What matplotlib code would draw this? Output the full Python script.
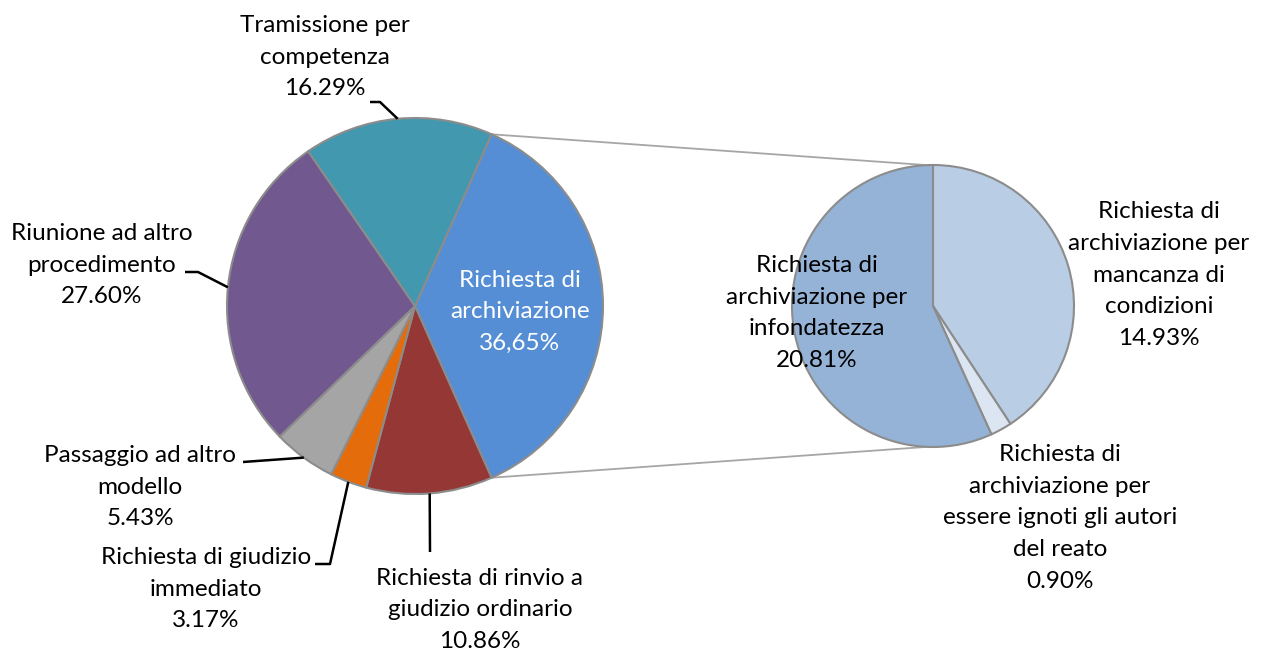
import numpy as np
import matplotlib.pyplot as plt

plt.rcParams['font.family'] = ['Lato', 'DejaVu Sans']

W, H = 1269, 653

# torta principale (ordine orario a partire dalla richiesta di archiviazione)
main_labels = ['Richiesta di\narchiviazione',
               'Richiesta di rinvio a\ngiudizio ordinario',
               'Richiesta di giudizio\nimmediato',
               'Passaggio ad altro\nmodello',
               'Riunione ad altro\nprocedimento',
               'Tramissione per\ncompetenza']
main_values = [36.65, 10.86, 3.17, 5.43, 27.60, 16.29]
main_colors = ['#558ED5', '#953735', '#E46C0A', '#A5A5A5', '#71588F', '#4198AF']

# dettaglio archiviazione
sub_labels = ['Richiesta di\narchiviazione per\nmancanza di\ncondizioni',
              'Richiesta di\narchiviazione per\nessere ignoti gli autori\ndel reato',
              'Richiesta di\narchiviazione per\ninfondatezza']
sub_values = [14.93, 0.90, 20.81]
sub_colors = ['#B9CDE5', '#DCE6F2', '#95B3D7']

# posizioni (pixel) dei testi e punto di attacco delle linee guida
main_text_pos = [(520, 312), (480, 610), (206, 589), (140, 487), (102, 265), (325, 57)]
main_leader = [None, [(430, 552)], [(315, 564), (330, 564)], [(243, 462)],
               [(185, 272), (198, 272)], [(370, 102), (380, 102)]]
sub_text_pos = [(1159, 275), (1060, 518), (817, 313)]

c1, r1 = (415, 306), 188
c2, r2 = (933, 306), 141
edge = '#8C8C8C'


def Y(y):
    return H - y


fig = plt.figure(figsize=(W / 100, H / 100), dpi=100)
ax = fig.add_axes([0, 0, 1, 1])

start = 360 * main_values[0] / sum(main_values) / 2
w1, _ = ax.pie(main_values, colors=main_colors, startangle=start, counterclock=False,
               center=(c1[0], Y(c1[1])), radius=r1,
               wedgeprops=dict(edgecolor=edge, linewidth=1.5))
w2, _ = ax.pie(sub_values, colors=sub_colors, startangle=90, counterclock=False,
               center=(c2[0], Y(c2[1])), radius=r2,
               wedgeprops=dict(edgecolor=edge, linewidth=1.5))

fs = 17.5
ls = 1.62
for i, (lab, val) in enumerate(zip(main_labels, main_values)):
    x, y = main_text_pos[i]
    if i == 0:
        txt = lab + '\n' + f'{val:.2f}%'.replace('.', ',')
        ax.text(x, Y(y), txt, ha='center', va='center', fontsize=fs, color='white',
                linespacing=ls)
        continue
    ax.text(x, Y(y), lab + '\n' + f'{val:.2f}%', ha='center', va='center',
            fontsize=fs, color='black', linespacing=ls)
    wd = w1[i]
    mid = np.deg2rad((wd.theta1 + wd.theta2) / 2)
    rim = (c1[0] + r1 * np.cos(mid), Y(c1[1]) + r1 * np.sin(mid))
    pts = [(px, Y(py)) for px, py in main_leader[i]] + [rim]
    ax.plot([p[0] for p in pts], [p[1] for p in pts], color='black', lw=1.8,
            solid_capstyle='butt')

for i, (lab, val) in enumerate(zip(sub_labels, sub_values)):
    x, y = sub_text_pos[i]
    ax.text(x, Y(y), lab + '\n' + f'{val:.2f}%', ha='center', va='center',
            fontsize=fs, color='black', linespacing=ls)

# linee di collegamento tra le due torte
b = w1[0]
for ang, yy in [(b.theta1, Y(c2[1]) - r2), (b.theta2, Y(c2[1]) + r2)]:
    a = np.deg2rad(ang)
    p = (c1[0] + r1 * np.cos(a), Y(c1[1]) + r1 * np.sin(a))
    ax.plot([p[0], c2[0] - 8], [p[1], yy], color='#A6A6A6', lw=1.3, zorder=0)

ax.set_xlim(0, W)
ax.set_ylim(0, H)
ax.set_aspect('equal')
ax.axis('off')
fig.savefig('out.png', dpi=100)
